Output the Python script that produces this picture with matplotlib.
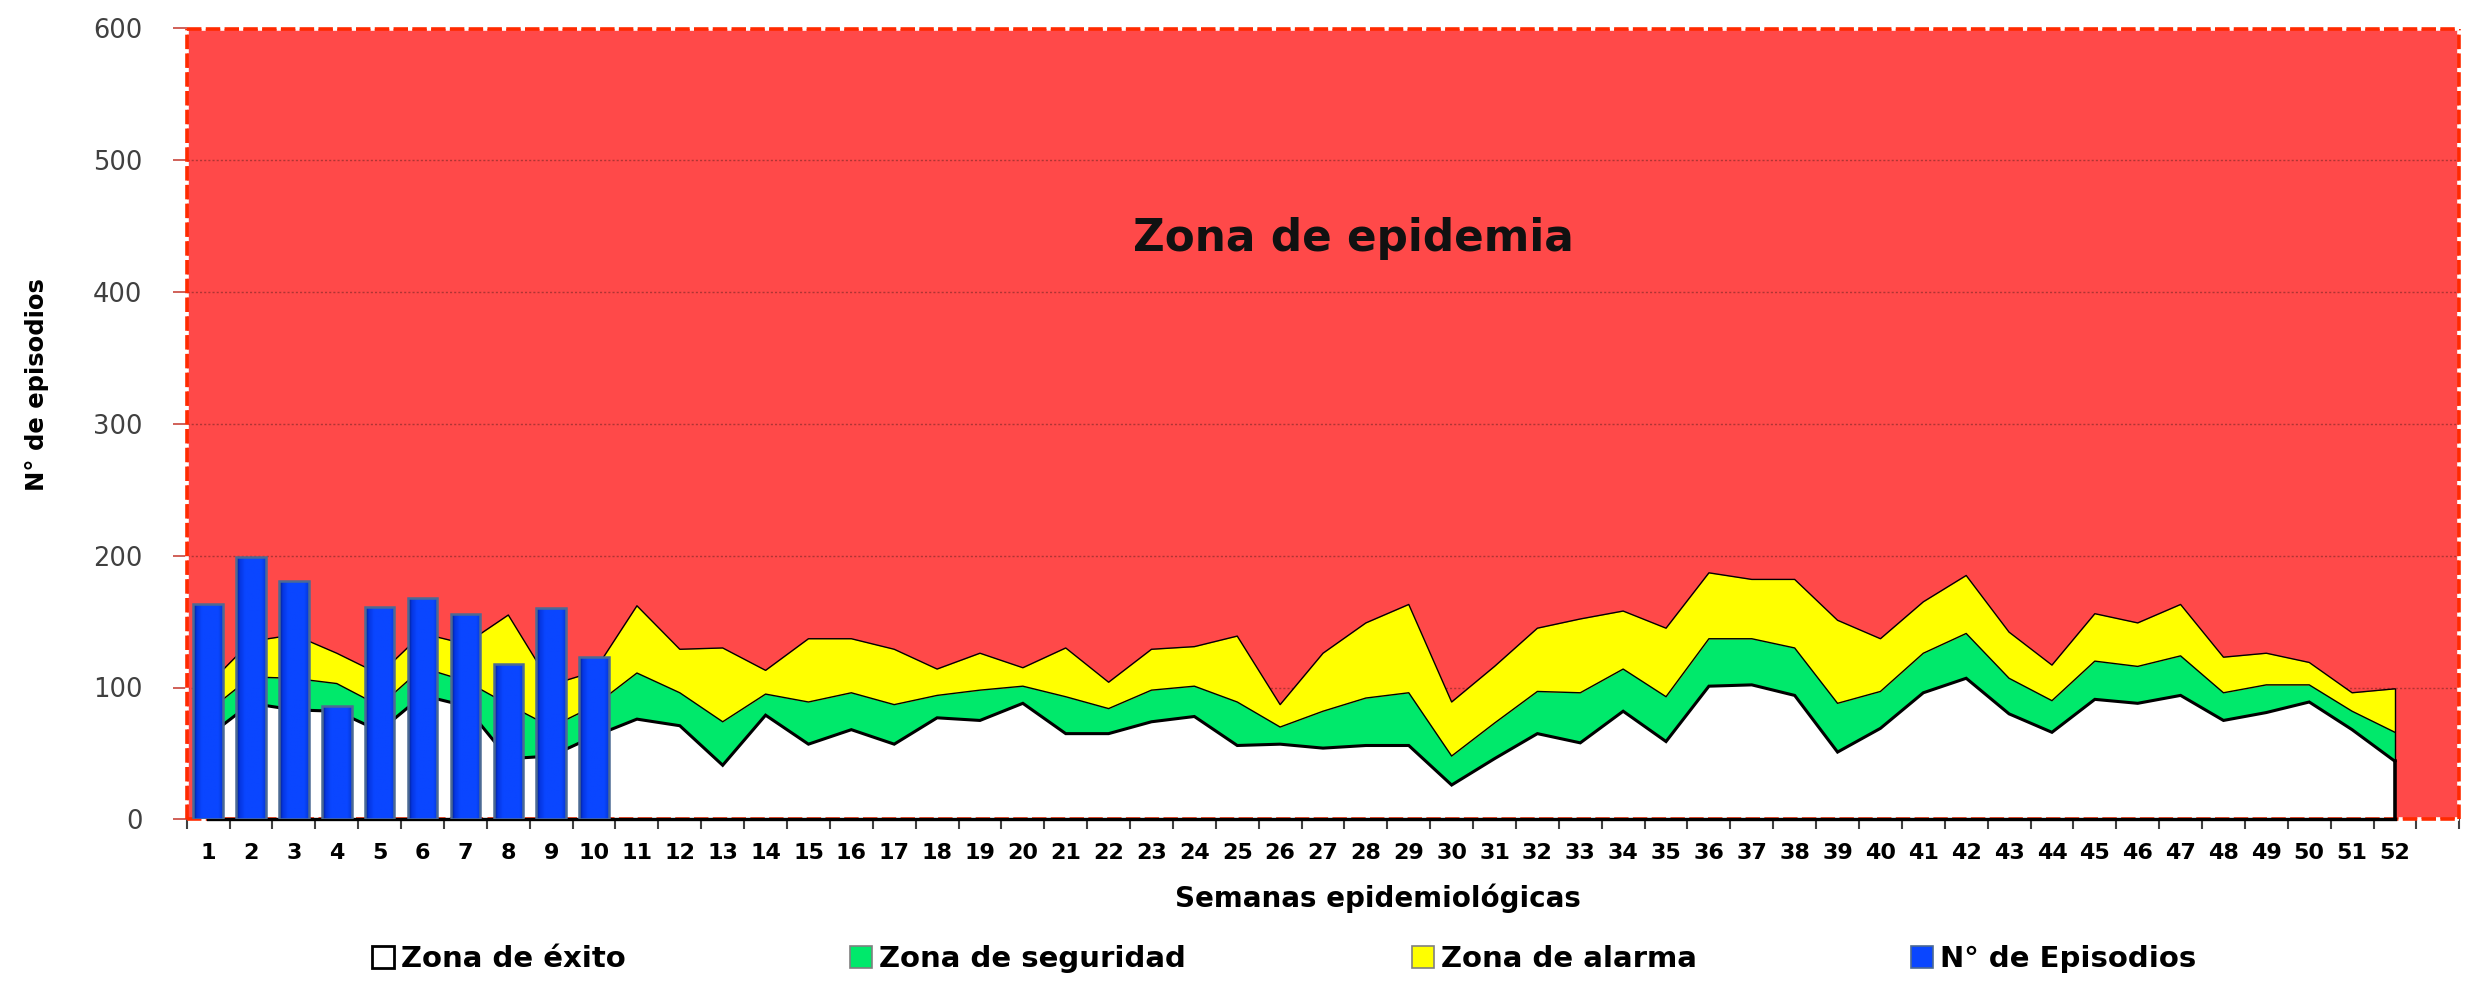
import numpy as np
import matplotlib
matplotlib.use('Agg')
import matplotlib.pyplot as plt
from matplotlib.patches import Patch
from matplotlib.colors import to_rgb

# ---------------- data ----------------
weeks = list(range(1, 53))
# upper limit of each zone (cumulative)
exito = [63, 88, 83, 82, 67, 94, 86, 46, 48, 63, 76, 71, 41, 79, 57, 68, 57, 77, 75, 88,
         65, 65, 74, 78, 56, 57, 54, 56, 56, 26, 46, 65, 58, 82, 59, 101, 102, 94, 51, 69,
         96, 107, 80, 66, 91, 88, 94, 75, 81, 89, 68, 44]
seguridad = [82, 108, 107, 103, 86, 115, 105, 87, 70, 86, 111, 96, 74, 95, 89, 96, 87, 94, 98, 101,
             93, 84, 98, 101, 89, 70, 82, 92, 96, 48, 73, 97, 96, 114, 93, 137, 137, 130, 88, 97,
             126, 141, 107, 90, 120, 116, 124, 96, 102, 102, 82, 66]
alarma = [102, 135, 140, 126, 110, 141, 133, 155, 102, 112, 162, 129, 130, 113, 137, 137, 129, 114, 126, 115,
          130, 104, 129, 131, 139, 87, 126, 149, 163, 89, 116, 145, 152, 158, 145, 187, 182, 182, 151, 137,
          165, 185, 142, 117, 156, 149, 163, 123, 126, 119, 96, 99]
episodios = [163, 199, 181, 86, 161, 168, 156, 118, 160, 123]
y_ticks = [0, 100, 200, 300, 400, 500, 600]
legend_labels = ['Zona de éxito', 'Zona de seguridad', 'Zona de alarma', 'N° de Episodios']

# ---------------- style ----------------
RED = '#FF4949'
GREEN = '#00E96B'
YELLOW = '#FFFF00'
BLUE = '#0A46FF'
BAR_EDGE = '#4C6A94'
FRAME = '#FF2A00'

W, H = 2484, 983
fig = plt.figure(figsize=(W / 100, H / 100), dpi=100)
fig.patch.set_facecolor('white')
left_px, right_px, top_px, bottom_px = 186.7, 2459.3, 28.5, 819.3
ax = fig.add_axes([left_px / W, 1 - bottom_px / H, (right_px - left_px) / W, (bottom_px - top_px) / H])
ax.set_facecolor(RED)

x = np.arange(len(weeks))
ax.fill_between(x, 0, exito, color='white', lw=0, zorder=2)
ax.fill_between(x, exito, seguridad, color=GREEN, lw=0, zorder=2)
ax.fill_between(x, seguridad, alarma, color=YELLOW, lw=0, zorder=2)
ax.plot(x, alarma, color='black', lw=1.0, zorder=3)
ax.plot(x, seguridad, color='black', lw=1.0, zorder=3)
ax.plot(x, exito, color='black', lw=2.2, zorder=3.5, solid_joinstyle='miter')
ax.plot([x[-1], x[-1]], [exito[-1], alarma[-1]], color='black', lw=1.0, zorder=3)
ax.plot([x[-1], x[-1]], [0, exito[-1]], color='black', lw=2.6, zorder=3.5)
ax.plot([x[0], x[-1]], [0, 0], color='black', lw=2.4, zorder=3.5, clip_on=False)

# bars with a slight horizontal gradient
nb = len(episodios)
bars = ax.bar(x[:nb], episodios, width=0.69, color=BLUE, lw=0, zorder=5)
stops = [0.0, 0.12, 0.3, 0.85, 1.0]
cols = ['#001A78', '#0535E0', '#0A46FF', '#0A46FF', '#0538D8']
rgb = np.array([to_rgb(c) for c in cols])
t = np.linspace(0, 1, 64)
grad = np.stack([np.interp(t, stops, rgb[:, k]) for k in range(3)], axis=-1)[np.newaxis, :, :]
for b in bars:
    x0, w, h = b.get_x(), b.get_width(), b.get_height()
    im = ax.imshow(grad, extent=(x0, x0 + w, 0, h), aspect='auto', zorder=5.1,
                   interpolation='bilinear')
    im.set_clip_path(b)
ax.bar(x[:nb], episodios, width=0.69, fill=False, edgecolor=BAR_EDGE, lw=1.8, zorder=5.2)

ax.set_xlim(-0.5, len(weeks) + 0.5)
ax.set_ylim(0, 600)

# grid
ax.set_axisbelow(True)
ax.yaxis.grid(True, color='#B03434', linestyle=(0, (1.5, 1.5)), lw=1.0)

# frame: red dashed line with white gaps
for s in ax.spines.values():
    s.set_visible(False)
frame_edges = [([0, 0], [0, 1], 6), ([1, 1], [0, 1], 6), ([0, 1], [1, 1], 6), ([0, 1], [0, 0], 3)]
for xs, ys, zo in frame_edges:
    ax.plot(xs, ys, transform=ax.transAxes, color=FRAME, gapcolor='white',
            linestyle=(0, (4, 1.2)), lw=2.6, clip_on=False, zorder=zo)

# y ticks
ax.set_yticks(y_ticks)
ax.set_yticklabels([str(v) for v in y_ticks])
ax.tick_params(axis='y', length=10, width=1.2, color='#C8463C', labelsize=18.5,
               labelcolor='#404040', pad=22)

# x ticks: marks at category boundaries, labels at category centres
ax.set_xticks(np.arange(-0.5, len(weeks) + 1, 1))
ax.set_xticklabels([])
ax.tick_params(axis='x', which='major', length=7, width=1.5, color='#404040')
ax.set_xticks(x, minor=True)
ax.set_xticklabels([str(w) for w in weeks], minor=True, fontweight='bold', fontsize=16)
ax.tick_params(axis='x', which='minor', length=0, pad=17, labelcolor='black')

ax.text(26.72, 431, 'Zona de epidemia', ha='center', va='baseline', fontsize=31.5,
        fontweight='bold', color='#111111', zorder=6)

fig.text(36.7 / W, 1 - 385 / H, 'N° de episodios', rotation=90, ha='center', va='center',
         fontsize=17.5, fontweight='bold')
fig.text(1378 / W, 1 - 898 / H, 'Semanas epidemiológicas', ha='center', va='center',
         fontsize=20, fontweight='bold')

handles = [Patch(facecolor='white', edgecolor='black', lw=2),
           Patch(facecolor=GREEN, edgecolor='#808080', lw=1.2),
           Patch(facecolor=YELLOW, edgecolor='#808080', lw=1.2),
           Patch(facecolor=BLUE, edgecolor=BAR_EDGE, lw=1.2)]
leg_x = [372, 850, 1412, 1911]
for hnd, lab, xp in zip(handles, legend_labels, leg_x):
    fig.legend(handles=[hnd], labels=[lab], loc='center left', bbox_to_anchor=(xp / W, 1 - 959 / H),
               frameon=False, prop={'weight': 'bold', 'size': 21}, handlelength=0.75,
               handleheight=0.75, handletextpad=0.25, borderpad=0, borderaxespad=0)

fig.savefig('out.png', dpi=100, facecolor='white')
